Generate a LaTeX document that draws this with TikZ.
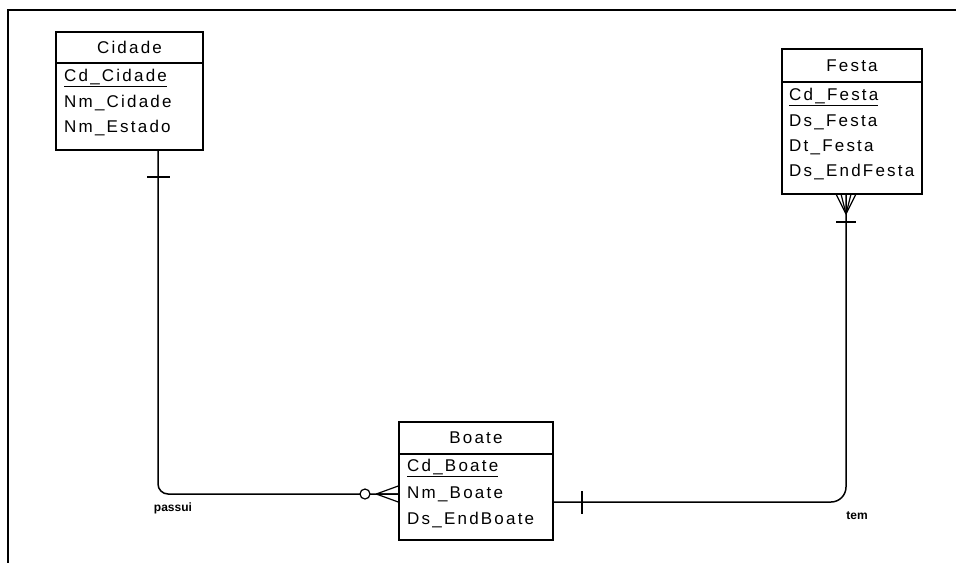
\documentclass[tikz,border=0pt]{standalone}
\usepackage{fontspec}
\setmainfont{Liberation Sans}
\newfontfamily\erfont[LetterSpace=13]{Liberation Sans}
\usetikzlibrary{positioning,calc}

\tikzset{
  entity/.style={draw,line width=1.5pt,inner sep=0pt},
  hdr/.style={font=\erfont\fontsize{17}{19}\selectfont,inner sep=0pt},
  attr/.style={font=\erfont\fontsize{17}{19}\selectfont,inner sep=0pt,anchor=west},
  rel/.style={line width=1.5pt},
  lbl/.style={font=\bfseries\fontsize{12}{13}\selectfont,inner sep=0pt}
}

\begin{document}
\begin{tikzpicture}[x=1pt,y=-1pt]
\useasboundingbox (0,0) rectangle (956,563);
% frame
\draw[line width=1.5pt] (956,10) -- (8,10) -- (8,563);
% Cidade
\node[entity,minimum width=147pt,minimum height=118pt] (cidade) at (129.5,91) {};
\node[hdr] (cidadeh) at (129.5,47.5) {Cidade};
\draw[line width=1.5pt] (cidade.west |- 0,63) -- (cidade.east |- 0,63);
\foreach \t [count=\i from 0] in {\underline{Cd\_Cidade},Nm\_Cidade,Nm\_Estado}
  \node[attr] at (64,78+25*\i) {\t};
% Festa
\node[entity,minimum width=140pt,minimum height=145pt] (festa) at (852,121.5) {};
\node[hdr] (festah) at (852,65.5) {Festa};
\draw[line width=1.5pt] (festa.west |- 0,82) -- (festa.east |- 0,82);
\foreach \t [count=\i from 0] in {\underline{Cd\_Festa},Ds\_Festa,Dt\_Festa,Ds\_EndFesta}
  \node[attr] at (789,97+25*\i) {\t};
% Boate
\node[entity,minimum width=154pt,minimum height=118pt] (boate) at (476,481) {};
\node[hdr] (boateh) at (476,438) {Boate};
\draw[line width=1.5pt] (boate.west |- 0,454) -- (boate.east |- 0,454);
\foreach \t [count=\i from 0] in {\underline{Cd\_Boate},Nm\_Boate,Ds\_EndBoate}
  \node[attr] at (407,468+26*\i) {\t};
% passui
\coordinate (pc) at (cidade.south -| 158,0);
\coordinate (pb) at (boate.west |- 0,494);
\draw[rel,rounded corners=10pt] (pc) |- (pb);
\draw[rel] (147,177) -- (170,177);
\draw[line width=1.2pt,fill=white] (365,494) circle (5);
\draw[line width=1.2pt] (pb) ++(-22,0) -- ++(22,-8) (pb) ++(-22,0) -- (pb) (pb) ++(-22,0) -- ++(22,8);
\node[lbl] (passui) at (173,508) {passui};
% tem
\coordinate (tb) at (boate.east |- 0,502);
\coordinate (tf) at (festa.south -| 846,0);
\draw[rel,rounded corners=15pt] (tb) -| (tf);
\draw[rel] (582,491) -- (582,514);
\foreach \dx in {-10,-5,5,10}
  \draw[line width=1.2pt] (846,214) -- (846+\dx,194);
\draw[rel] (836,222) -- (856,222);
\node[lbl] (tem) at (857,516) {tem};
\end{tikzpicture}
\end{document}
